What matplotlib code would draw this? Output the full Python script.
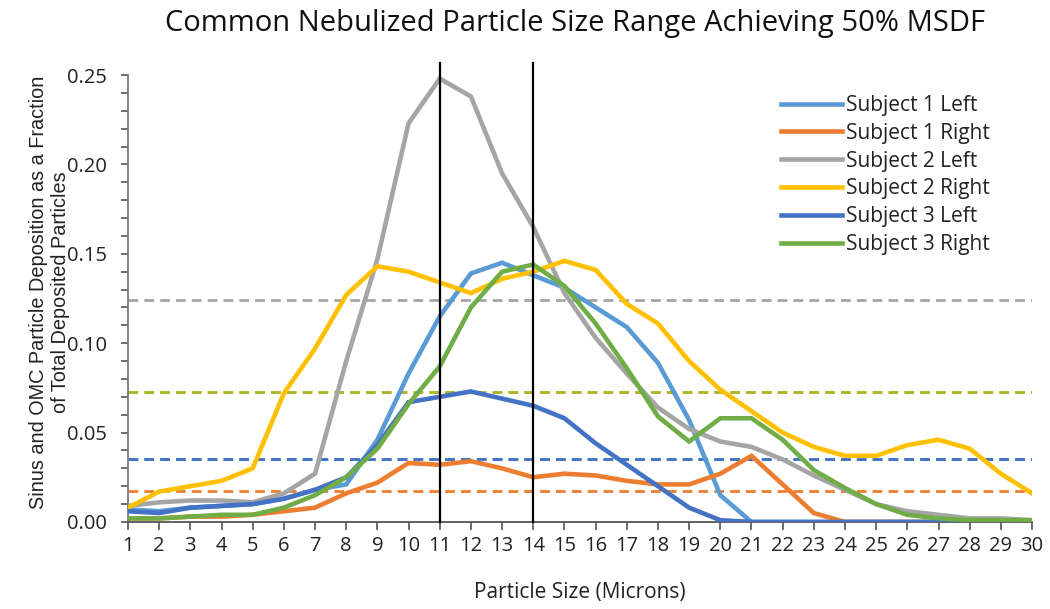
import numpy as np
import matplotlib
matplotlib.use("Agg")
import matplotlib.pyplot as plt
from matplotlib.ticker import MultipleLocator
from matplotlib.font_manager import FontProperties

# particle size bins (microns)
sizes = np.arange(1, 31)

s1_left = [0.007, 0.006, 0.008, 0.009, 0.010, 0.013, 0.018, 0.021, 0.046, 0.083,
           0.115, 0.139, 0.145, 0.138, 0.131, 0.120, 0.109, 0.089, 0.057, 0.015,
           0.000, 0.000, 0.000, 0.000, 0.000, 0.000, 0.000, 0.000, 0.000, 0.000]
s1_right = [0.002, 0.002, 0.003, 0.003, 0.004, 0.006, 0.008, 0.016, 0.022, 0.033,
            0.032, 0.034, 0.030, 0.025, 0.027, 0.026, 0.023, 0.021, 0.021, 0.027,
            0.037, 0.021, 0.005, 0.000, 0.000, 0.000, 0.000, 0.000, 0.000, 0.000]
s2_left = [0.009, 0.011, 0.012, 0.012, 0.011, 0.016, 0.027, 0.090, 0.147, 0.223,
           0.248, 0.238, 0.195, 0.165, 0.128, 0.103, 0.083, 0.064, 0.052, 0.045,
           0.042, 0.035, 0.026, 0.018, 0.010, 0.006, 0.004, 0.002, 0.002, 0.001]
s2_right = [0.008, 0.017, 0.020, 0.023, 0.030, 0.072, 0.097, 0.127, 0.143, 0.140,
            0.134, 0.128, 0.136, 0.140, 0.146, 0.141, 0.122, 0.111, 0.090, 0.074,
            0.062, 0.050, 0.042, 0.037, 0.037, 0.043, 0.046, 0.041, 0.027, 0.016]
s3_left = [0.006, 0.005, 0.008, 0.009, 0.010, 0.013, 0.018, 0.025, 0.043, 0.067,
           0.070, 0.073, 0.069, 0.065, 0.058, 0.044, 0.032, 0.020, 0.008, 0.001,
           0.000, 0.000, 0.000, 0.000, 0.000, 0.000, 0.000, 0.000, 0.000, 0.000]
s3_right = [0.002, 0.002, 0.003, 0.004, 0.004, 0.008, 0.015, 0.025, 0.041, 0.066,
            0.087, 0.120, 0.140, 0.144, 0.132, 0.111, 0.086, 0.059, 0.045, 0.058,
            0.058, 0.046, 0.029, 0.019, 0.010, 0.004, 0.002, 0.001, 0.001, 0.001]

labels = ["Subject 1 Left", "Subject 1 Right", "Subject 2 Left",
          "Subject 2 Right", "Subject 3 Left", "Subject 3 Right"]
series = [s1_left, s1_right, s2_left, s2_right, s3_left, s3_right]
colors = ["#5B9BD5", "#ED7D31", "#A5A5A5", "#FFC000", "#4472C4", "#70AD47"]

# 50% MSDF threshold for each series (dashed lines)
thresholds = [0.035, 0.0175, 0.124, 0.0725, 0.0355, 0.0725]
common_range = [11, 14]

fig = plt.figure(figsize=(10.5, 6.09), dpi=100)
ax = fig.add_axes([0.1219, 0.1429, 0.861, 0.7339])

for thr, c in zip(thresholds, colors):
    a = 0.6 if c == "#70AD47" else 1.0
    ax.plot([sizes[0], sizes[-1]], [thr, thr], color=c, lw=2, ls=(0, (3.5, 2.2)), alpha=a, zorder=2)

lines = []
for y, c, lab in zip(series, colors, labels):
    ln, = ax.plot(sizes, y, color=c, lw=3.3, label=lab, zorder=3, solid_joinstyle="miter")
    lines.append(ln)

for v in common_range:
    ax.plot([v, v], [0, 0.257], color="black", lw=1.6, clip_on=False, zorder=4)

ax.set_xlim(1, 30)
ax.set_ylim(0, 0.25)
ax.set_xticks(sizes)
ax.yaxis.set_major_locator(MultipleLocator(0.05))
ax.yaxis.set_minor_locator(MultipleLocator(0.01))
ax.yaxis.set_major_formatter(plt.FuncFormatter(lambda v, p: f"{v:.2f}"))

tf = "Open Sans"
for lab in ax.get_xticklabels() + ax.get_yticklabels():
    lab.set_fontfamily(tf)
    lab.set_fontsize(14.5)
    lab.set_color("#222222")
ax.tick_params(axis="x", direction="out", length=6, width=1.2, color="#555555", pad=4)
ax.tick_params(axis="y", which="both", direction="out", length=5, width=1.2, color="#555555", pad=10)

for s in ["top", "right"]:
    ax.spines[s].set_visible(False)
ax.spines["left"].set_color("#777777")
ax.spines["left"].set_linewidth(1.3)
ax.spines["bottom"].set_color("#555555")
ax.spines["bottom"].set_linewidth(1.3)

fig.text(0.548, 0.962, "Common Nebulized Particle Size Range Achieving 50% MSDF",
         ha="center", va="center", fontsize=21, family=tf, color="#111111")
ax.set_xlabel("Particle Size (Microns)", fontsize=15, family=tf, labelpad=19, color="#222222")
fig.text(0.047, 0.52, "Sinus and OMC Particle Deposition as a Fraction\nof Total Deposited Particles",
         rotation=90, ha="center", va="center", fontsize=14.3, family="Liberation Sans",
         linespacing=1.2, color="#222222")

leg = ax.legend(handles=lines, loc="upper left", bbox_to_anchor=(0.736, 0.858),
                bbox_transform=fig.transFigure, frameon=False,
                prop=FontProperties(family=tf, size=15),
                handlelength=2.9, handletextpad=0.2, labelspacing=0.33, borderaxespad=0)
for t in leg.get_texts():
    t.set_color("#222222")

fig.savefig("out.png", dpi=100)
